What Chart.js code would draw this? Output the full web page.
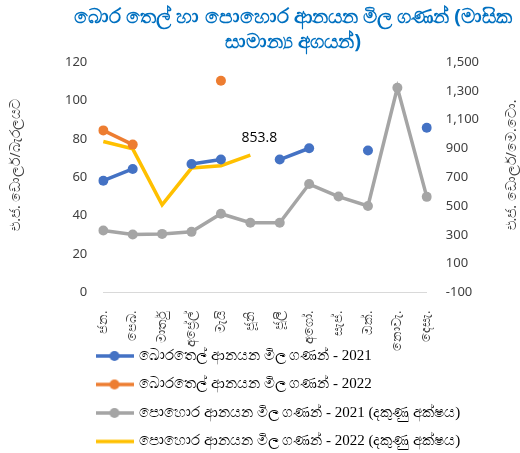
<!DOCTYPE html>
<html>
<head>
<meta charset="utf-8">
<script src="https://cdn.jsdelivr.net/npm/chart.js@4.4.1/dist/chart.umd.min.js"></script>
<style>
  html, body { margin: 0; padding: 0; background: #fff; }
  #wrap { width: 520px; height: 453px; }
</style>
</head>
<body>
<div id="wrap"><canvas id="chart"></canvas></div>
<script>
const months = ['ජන.', 'පෙබ.', 'මාර්තු', 'අප්‍රේල්', 'මැයි', 'ජූනි', 'ජූලි', 'අගෝ.', 'සැප්.', 'ඔක්.', 'නොවැ.', 'දෙසැ.'];

// crude oil, USD per barrel (left axis)
const oil2021 = [58.2, 64.3, null, 66.9, 69.2, null, 69.2, 75.1, null, 73.9, null, 85.8];
const oil2022 = [84.4, 77.0, null, null, 110.2, null, null, null, null, null, null, null];

// fertilizer, USD per MT (right axis)
const fert2021 = [331, 303, 307, 321, 447, 384, 384, 653, 566, 501, 1321, 564];
const fert2022 = [948, 897, 508, 764, 780, 853.8, null, null, null, null, null, null];

const seriesNames = [
    'බොරතෙල් ආනයන මිල ගණන් - 2021',
    'බොරතෙල් ආනයන මිල ගණන් - 2022',
    'පොහොර ආනයන මිල ගණන් - 2021 (දකුණු අක්ෂය)',
    'පොහොර ආනයන මිල ගණන් - 2022 (දකුණු අක්ෂය)'
];
const titleLines = ['බොර තෙල් හා පොහොර ආනයන මිල ගණන් (මාසික', 'සාමාන්‍ය අගයන්)'];
const leftTitle = 'එ.ජ. ඩොලර්/බැරලයට';
const rightTitle = 'එ.ජ. ඩොලර්/මෙ.ටො.';

const BLUE = '#4472C4', ORANGE = '#ED7D31', GREY = '#A5A5A5', YELLOW = '#FFC000';
const TEXT = '#404040';
const FONT = '"Noto Sans", sans-serif';

// little line+dot images for the legend, like the spreadsheet one
function legendMark(color, dot) {
    const c = document.createElement('canvas');
    c.width = 38;
    c.height = 12;
    const g = c.getContext('2d');
    g.strokeStyle = color;
    g.lineWidth = 3.5;
    g.beginPath();
    g.moveTo(0, 6);
    g.lineTo(38, 6);
    g.stroke();
    if (dot) {
        g.fillStyle = color;
        g.beginPath();
        g.arc(19, 6, 5, 0, Math.PI * 2);
        g.fill();
    }
    return c;
}
const marks = [legendMark(BLUE, true), legendMark(ORANGE, true), legendMark(GREY, true), legendMark(YELLOW, false)];

// title, axis captions and the single value label
const extras = {
    id: 'extras',
    afterLayout(chart) {
        // legend rows start under the plot, not at the canvas edge,
        // and sit a bit closer to the month labels
        const lg = chart.legend;
        const h = lg.bottom - lg.top;
        lg.left = 84;
        lg.right = 520;
        lg.top = 335;
        lg.bottom = 335 + h;
    },
    afterDraw(chart) {
        const ctx = chart.ctx;
        ctx.save();
        ctx.fillStyle = '#0070C0';
        ctx.font = 'bold 20px ' + FONT;
        ctx.textAlign = 'center';
        ctx.textBaseline = 'middle';
        ctx.fillText(titleLines[0], 293, 17);
        ctx.fillText(titleLines[1], 293, 42);

        ctx.fillStyle = TEXT;
        ctx.font = '14px ' + FONT;
        [[16, leftTitle], [512, rightTitle]].forEach(([x, t]) => {
            ctx.save();
            ctx.translate(x, 165);
            ctx.rotate(-Math.PI / 2);
            ctx.fillText(t, 0, 0);
            ctx.restore();
        });
        ctx.restore();

        const pt = chart.getDatasetMeta(3).data[5];
        ctx.save();
        ctx.fillStyle = '#000';
        ctx.font = '14px "Open Sans", sans-serif';
        ctx.textAlign = 'center';
        ctx.textBaseline = 'middle';
        ctx.fillText(fert2022[5].toFixed(1), pt.x + 9, pt.y - 17);
        ctx.restore();
    }
};

const ctx = document.getElementById('chart');

const chartData = {
    labels: months,
    datasets: [{
        label: seriesNames[0],
        data: oil2021,
        yAxisID: 'y',
        borderColor: BLUE,
        backgroundColor: BLUE,
        borderWidth: 3.5,
        pointRadius: 5,
        pointHoverRadius: 5,
        pointBorderWidth: 0
    }, {
        label: seriesNames[1],
        data: oil2022,
        yAxisID: 'y',
        borderColor: ORANGE,
        backgroundColor: ORANGE,
        borderWidth: 3.5,
        pointRadius: 5,
        pointHoverRadius: 5,
        pointBorderWidth: 0
    }, {
        label: seriesNames[2],
        data: fert2021,
        yAxisID: 'y1',
        borderColor: GREY,
        backgroundColor: GREY,
        borderWidth: 3.5,
        pointRadius: 5,
        pointHoverRadius: 5,
        pointBorderWidth: 0
    }, {
        label: seriesNames[3],
        data: fert2022,
        yAxisID: 'y1',
        borderColor: YELLOW,
        backgroundColor: YELLOW,
        borderWidth: 3.5,
        pointRadius: 0,
        pointHoverRadius: 0
    }]
};

const chartOptions = {
    responsive: true,
    maintainAspectRatio: false,
    animation: false,
    layout: {
        padding: { top: 62, right: 22, left: 49, bottom: -32 }
    },
    scales: {
        x: {
            grid: { display: false },
            border: { display: true, color: '#D9D9D9' },
            ticks: {
                minRotation: 90,
                maxRotation: 90,
                autoSkip: false,
                color: TEXT,
                font: { size: 13, family: FONT },
                padding: 10
            }
        },
        y: {
            position: 'left',
            min: 0,
            max: 120,
            grid: { display: false, drawTicks: false },
            border: { display: false },
            ticks: {
                stepSize: 20,
                color: TEXT,
                padding: 16,
                font: { size: 13, family: FONT }
            }
        },
        y1: {
            position: 'right',
            min: -100,
            max: 1500,
            grid: { display: false, drawTicks: false },
            border: { display: false },
            ticks: {
                stepSize: 200,
                color: TEXT,
                padding: 19,
                font: { size: 13, family: FONT }
            }
        }
    },
    plugins: {
        title: { display: false },
        tooltip: { enabled: false },
        legend: {
            position: 'bottom',
            align: 'start',
            labels: {
                usePointStyle: true,
                pointStyleWidth: 34,
                padding: 13.5,
                color: '#000',
                font: { size: 15, family: '"Liberation Serif", serif' },
                generateLabels(chart) {
                    const items = Chart.defaults.plugins.legend.labels.generateLabels(chart);
                    return items.map((it, i) => Object.assign(it, { pointStyle: marks[i] }));
                }
            }
        }
    }
};

const myChart = new Chart(ctx, {
    type: 'line',
    data: chartData,
    options: chartOptions,
    plugins: [extras]
});
</script>
</body>
</html>
